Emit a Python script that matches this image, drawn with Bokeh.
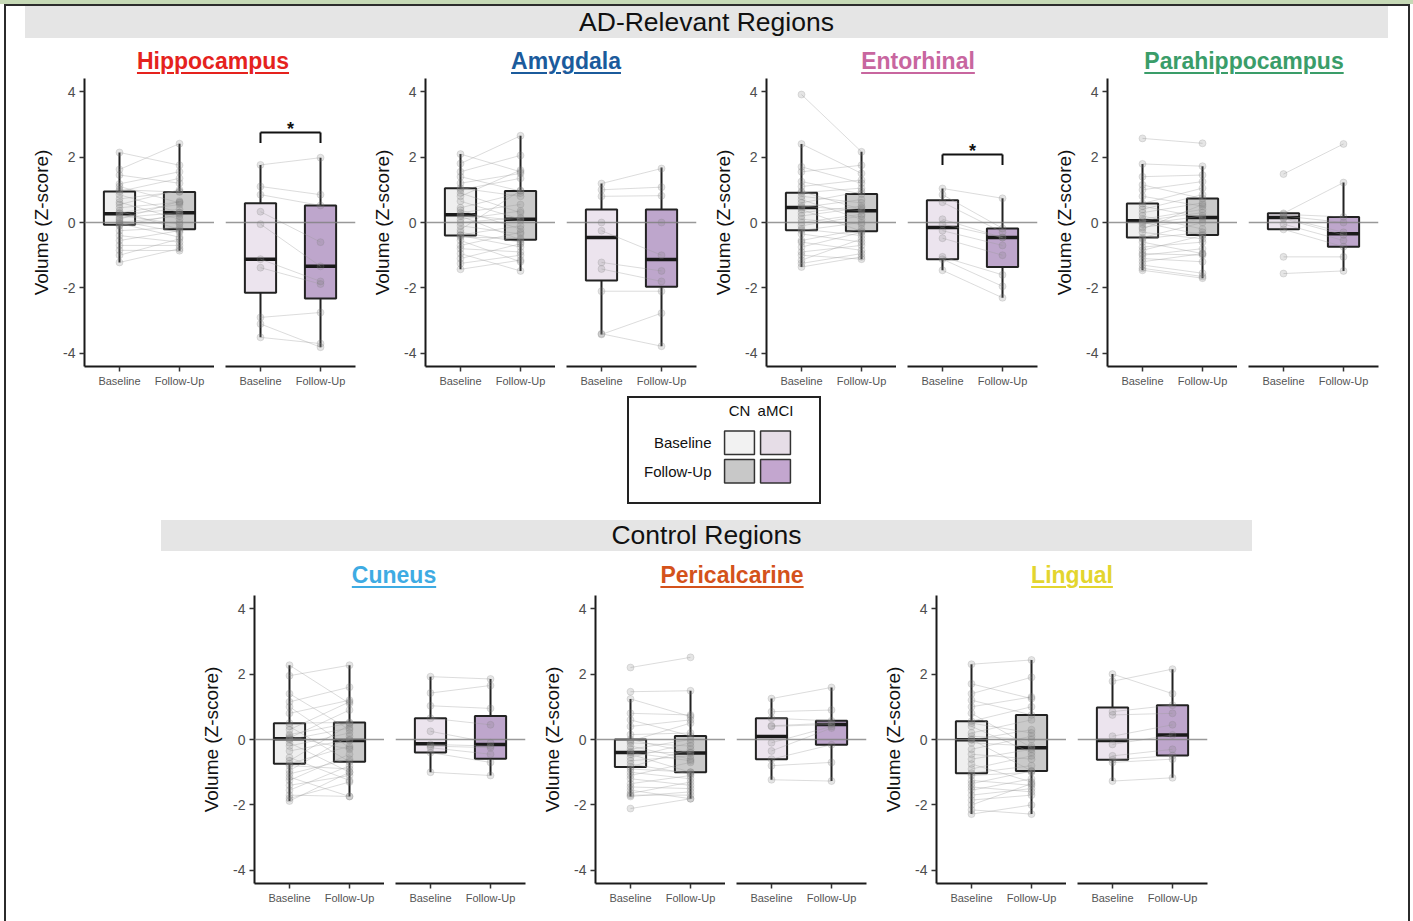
from bokeh.plotting import figure
from bokeh.models import FactorRange, Range1d, ColumnDataSource, Div, Spacer, Span, FixedTicker
from bokeh.layouts import row, column
from bokeh.transform import dodge
from bokeh.core.properties import value
from bokeh.embed import file_html
from bokeh.resources import INLINE

FONT = "Liberation Sans"
GROUPS = ["Baseline", "Follow-Up"]
REGIONS = ["Hippocampus", "Amygdala", "Entorhinal", "Parahippocampus",
           "Cuneus", "Pericalcarine", "Lingual"]
TITLE_COLORS = ["#e5221d", "#1b5b9c", "#c8669f", "#3a9d69",
                "#3eabe3", "#d4521b", "#e3d52e"]
SECTIONS = ["AD-Relevant Regions", "Control Regions"]
Y_TICKS = [-4, -2, 0, 2, 4]
Y_TICK_LABELS = ["-4", "-2", "0", "2", "4"]
LEGEND_COLS = ["CN", "aMCI"]
LEGEND_ROWS = ["Baseline", "Follow-Up"]
CN_FILL = ["#efefef", "#cacaca"]
MCI_FILL = ["#ece4ee", "#bea6cc"]
LEGEND_FILL = {("CN", "Baseline"): "#f2f2f2", ("aMCI", "Baseline"): "#e6dde7",
               ("CN", "Follow-Up"): "#c8c8c8", ("aMCI", "Follow-Up"): "#c3a6cf"}
SIG_REGIONS = ["Hippocampus", "Entorhinal"]
SIG_TOP = [2.75, 2.08]

# box stats: order CN-Baseline, CN-Follow-Up, aMCI-Baseline, aMCI-Follow-Up
HIP_BOX = dict(lo=[-1.22, -0.86, -3.51, -3.81], q1=[-0.07, -0.21, -2.15, -2.32],
               med=[0.27, 0.30, -1.12, -1.34], q3=[0.95, 0.93, 0.59, 0.52], hi=[2.14, 2.41, 1.76, 1.98])
AMY_BOX = dict(lo=[-1.43, -1.48, -3.42, -3.78], q1=[-0.40, -0.53, -1.77, -1.96],
               med=[0.24, 0.10, -0.46, -1.13], q3=[1.05, 0.96, 0.40, 0.40], hi=[2.09, 2.65, 1.19, 1.68])
ENT_BOX = dict(lo=[-1.36, -1.12, -1.46, -2.30], q1=[-0.24, -0.27, -1.12, -1.36],
               med=[0.46, 0.36, -0.15, -0.46], q3=[0.91, 0.87, 0.68, -0.18], hi=[2.40, 2.16, 1.04, 0.74])
PHC_BOX = dict(lo=[-1.46, -1.70, -0.21, -1.48], q1=[-0.46, -0.38, -0.21, -0.74],
               med=[0.05, 0.15, 0.15, -0.34], q3=[0.58, 0.73, 0.28, 0.17], hi=[1.79, 1.72, 0.28, 1.22])
CUN_BOX = dict(lo=[-1.88, -1.74, -1.00, -1.10], q1=[-0.74, -0.68, -0.40, -0.59],
               med=[0.02, -0.03, -0.13, -0.15], q3=[0.50, 0.52, 0.65, 0.72], hi=[2.27, 2.27, 1.92, 1.85])
PER_BOX = dict(lo=[-1.74, -1.81, -1.23, -1.27], q1=[-0.84, -1.00, -0.60, -0.16],
               med=[-0.40, -0.41, 0.09, 0.46], q3=[0.00, 0.11, 0.65, 0.57], hi=[1.24, 1.49, 1.25, 1.59])
LIN_BOX = dict(lo=[-2.28, -2.28, -1.27, -1.17], q1=[-1.03, -0.96, -0.62, -0.49],
               med=[-0.01, -0.25, -0.03, 0.14], q3=[0.56, 0.75, 0.98, 1.05], hi=[2.30, 2.43, 2.00, 2.15])

# individual subjects (paired baseline / follow-up)
HIP_CN_BL = [2.14, 1.62, 1.45, 1.18, 1.10, 1.00, 0.95, 0.85, 0.72, 0.62, 0.55, 0.45, 0.35, 0.30, 0.27,
             0.22, 0.15, 0.10, 0.05, 0.00, -0.03, -0.07, -0.10, -0.25, -0.40, -0.55, -0.70, -0.85, -1.00, -1.22]
HIP_CN_FU = [1.75, 2.41, 1.20, 1.55, 0.60, 0.93, 1.35, 0.30, 0.95, 0.10, 1.00, 0.62, -0.21, 0.55, 0.40,
             -0.05, 0.30, 0.65, -0.30, 0.20, -0.45, 0.00, 0.25, -0.15, -0.60, -0.25, -0.70, -0.86, -0.50, -0.80]
HIP_MCI_BL = [1.76, 1.10, 0.85, 0.33, -0.05, -1.12, -1.38, -2.90, -3.10, -3.51]
HIP_MCI_FU = [1.98, 0.85, 0.52, -0.60, -1.34, -1.80, -1.88, -2.75, -3.81, -3.70]

AMY_CN_BL = [2.09, 1.80, 1.55, 1.40, 1.20, 1.05, 1.00, 0.90, 0.80, 0.65, 0.45, 0.38, 0.30, 0.24, 0.20,
             0.10, 0.00, -0.10, -0.22, -0.30, -0.38, -0.40, -0.45, -0.55, -0.70, -0.80, -0.95, -1.10, -1.25, -1.43]
AMY_CN_FU = [1.55, 2.65, 2.05, 0.96, 1.50, 0.80, 1.35, 0.30, 1.60, 0.10, 0.90, -0.20, 0.55, 0.05, -0.53,
             0.35, 0.15, -0.35, 0.98, -0.60, -0.10, -0.75, -0.48, -1.20, -0.30, -0.90, -1.48, -0.65, -1.00, -1.15]
AMY_MCI_BL = [1.19, 1.00, 0.80, 0.00, -0.25, -1.22, -1.42, -2.10, -3.42, -3.40]
AMY_MCI_FU = [1.65, 1.08, 0.82, 0.00, -1.00, -1.48, -1.80, -2.10, -2.77, -3.78]

ENT_CN_BL = [3.91, 2.40, 1.70, 1.55, 1.25, 1.10, 0.95, 0.91, 0.80, 0.70, 0.60, 0.50, 0.46, 0.40, 0.30,
             0.20, 0.10, 0.00, -0.10, -0.20, -0.24, -0.35, -0.55, -0.60, -0.75, -0.90, -1.00, -1.15, -1.25, -1.36]
ENT_CN_FU = [2.16, 1.50, 1.20, 1.75, 0.87, 1.30, 0.40, 1.05, 0.60, 0.10, 0.95, 0.36, 0.70, -0.27, 0.50,
             0.45, -0.05, 0.25, 0.20, -0.40, 0.00, -0.60, -0.20, -0.85, -0.30, -0.70, -1.12, -0.50, -0.95, -1.05]
ENT_MCI_BL = [1.04, 0.85, 0.62, 0.10, -0.05, -0.25, -0.48, -1.05, -1.12, -1.46]
ENT_MCI_FU = [0.74, -0.18, -0.30, -0.46, -0.46, -0.70, -1.00, -1.60, -1.95, -2.30]

PHC_CN_BL = [2.57, 1.79, 1.40, 1.15, 1.00, 0.80, 0.58, 0.50, 0.40, 0.30, 0.20, 0.10, 0.05, 0.00, -0.05,
             -0.15, -0.20, -0.30, -0.46, -0.50, -0.60, -0.75, -0.85, -0.95, -1.00, -1.10, -1.20, -1.30, -1.40, -1.46]
PHC_CN_FU = [2.42, 1.72, 1.45, 0.73, 1.25, 0.50, 1.05, 0.15, 0.85, 0.60, -0.20, 0.40, 0.30, -0.38, 0.20,
             0.10, 0.55, -0.50, 0.00, -0.30, -0.95, -0.60, -0.40, -1.00, -0.80, -1.20, -0.95, -1.55, -1.65, -1.70]
PHC_MCI_BL = [1.48, 0.28, 0.25, 0.20, 0.15, 0.12, -0.05, -0.21, -1.05, -1.56]
PHC_MCI_FU = [2.40, 1.22, 0.17, 0.00, -0.30, -0.38, -0.55, -0.74, -1.05, -1.48]

CUN_CN_BL = [2.27, 1.95, 1.40, 1.15, 1.00, 0.80, 0.50, 0.40, 0.30, 0.15, 0.10, 0.05, 0.02, 0.00, -0.10,
             -0.20, -0.35, -0.55, -0.65, -0.74, -0.80, -0.95, -1.05, -1.15, -1.25, -1.40, -1.55, -1.70, -1.80, -1.88]
CUN_CN_FU = [1.10, 2.27, 0.30, 1.60, -0.25, 1.20, 0.52, -0.68, 1.15, 0.50, -0.30, 0.90, -0.03, 0.35, -1.00,
             0.20, 0.00, -1.25, 0.45, -0.20, -0.90, 0.10, -0.60, -1.74, -0.45, -1.10, -0.80, -1.74, -1.30, -1.00]
CUN_MCI_BL = [1.92, 1.42, 1.03, 0.65, 0.25, -0.15, -0.20, -0.25, -0.40, -1.00]
CUN_MCI_FU = [1.85, 1.65, 0.95, 0.45, -0.10, -0.20, -0.25, -0.45, -0.70, -1.10]

PER_CN_BL = [2.20, 1.46, 1.24, 0.80, 0.60, 0.40, 0.15, 0.00, -0.05, -0.10, -0.20, -0.30, -0.38, -0.40, -0.45,
             -0.55, -0.65, -0.75, -0.84, -0.90, -1.00, -1.10, -1.20, -1.35, -1.45, -1.55, -1.65, -1.70, -1.74, -2.11]
PER_CN_FU = [2.51, 1.49, 0.70, 0.75, 0.11, 0.60, 0.20, -0.40, 0.50, -0.20, -0.60, 0.00, -0.41, -0.65, -1.00,
             -0.10, -0.50, -1.05, -0.30, -1.00, -1.20, -0.70, -1.40, -1.10, -1.50, -1.81, -1.30, -1.70, -1.60, -1.81]
PER_MCI_BL = [1.25, 0.85, 0.65, 0.42, 0.40, -0.10, -0.35, -0.60, -0.80, -1.23]
PER_MCI_FU = [1.59, 0.90, 0.57, 0.50, 0.46, 0.40, 0.35, -0.16, -0.70, -1.27]

LIN_CN_BL = [2.30, 1.70, 1.40, 1.20, 1.00, 0.80, 0.56, 0.50, 0.40, 0.20, 0.10, 0.00, -0.01, -0.10, -0.30,
             -0.45, -0.60, -0.75, -0.90, -1.03, -1.10, -1.25, -1.35, -1.45, -1.55, -1.70, -1.85, -2.00, -2.15, -2.28]
LIN_CN_FU = [2.43, 1.25, 1.90, 0.75, 1.30, -0.25, 1.00, 0.20, -0.40, 0.60, 0.00, -0.96, 0.30, -0.20, 0.10,
             -0.60, -0.30, -1.30, -0.50, -0.80, -1.00, -1.40, -0.96, -1.60, -1.20, -1.50, -1.70, -1.35, -2.28, -2.00]
LIN_MCI_BL = [2.00, 1.78, 0.85, 0.75, 0.10, -0.15, -0.50, -0.62, -0.70, -1.27]
LIN_MCI_FU = [1.40, 2.15, 1.05, 0.80, 0.45, 0.14, -0.30, -0.49, -0.60, -1.17]

DATA = {
    "Hippocampus": (HIP_BOX, HIP_CN_BL, HIP_CN_FU, HIP_MCI_BL, HIP_MCI_FU),
    "Amygdala": (AMY_BOX, AMY_CN_BL, AMY_CN_FU, AMY_MCI_BL, AMY_MCI_FU),
    "Entorhinal": (ENT_BOX, ENT_CN_BL, ENT_CN_FU, ENT_MCI_BL, ENT_MCI_FU),
    "Parahippocampus": (PHC_BOX, PHC_CN_BL, PHC_CN_FU, PHC_MCI_BL, PHC_MCI_FU),
    "Cuneus": (CUN_BOX, CUN_CN_BL, CUN_CN_FU, CUN_MCI_BL, CUN_MCI_FU),
    "Pericalcarine": (PER_BOX, PER_CN_BL, PER_CN_FU, PER_MCI_BL, PER_MCI_FU),
    "Lingual": (LIN_BOX, LIN_CN_BL, LIN_CN_FU, LIN_MCI_BL, LIN_MCI_FU),
}

# ---------------- layout constants (pixels) ----------------
FRAME_W = 130
FRAME_H = 288
LEFT_B = 56
GAP = 11
RIGHT_B = 14
TOP_B = 4
BOT_B = 30
FIG_H = TOP_B + FRAME_H + BOT_B
BOX_W = 0.52
INNER_W = 1402


def make_fig(bl, fu, box, idx, fills, with_axis, sig_top=None):
    xr = FactorRange(factors=GROUPS, range_padding=0.083, range_padding_units="absolute")
    yr = Range1d(-4.4, 4.4)
    if with_axis:
        w = LEFT_B + FRAME_W
        p = figure(width=w, height=FIG_H, x_range=xr, y_range=yr, output_backend="svg",
                   toolbar_location=None, min_border_left=LEFT_B, min_border_right=0,
                   min_border_top=TOP_B, min_border_bottom=BOT_B)
    else:
        w = GAP + FRAME_W + RIGHT_B
        p = figure(width=w, height=FIG_H, x_range=xr, y_range=yr, output_backend="svg",
                   toolbar_location=None, y_axis_location=None, min_border_left=GAP,
                   min_border_right=RIGHT_B, min_border_top=TOP_B, min_border_bottom=BOT_B)
    p.outline_line_color = None
    p.grid.visible = False
    p.background_fill_color = "white"
    p.border_fill_color = "white"

    ax = p.xaxis[0]
    ax.axis_line_width = 2
    ax.axis_line_color = "#1a1a1a"
    ax.major_tick_line_color = "#333333"
    ax.major_tick_line_width = 1.5
    ax.major_tick_out = 5
    ax.major_tick_in = 0
    ax.minor_tick_line_color = None
    ax.major_label_text_font = FONT
    ax.major_label_text_font_size = "11px"
    ax.major_label_text_color = "#555555"
    ax.major_label_standoff = 3
    if with_axis:
        ya = p.yaxis[0]
        ya.ticker = FixedTicker(ticks=Y_TICKS)
        ya.major_label_overrides = dict(zip(Y_TICKS, Y_TICK_LABELS))
        ya.axis_line_width = 2
        ya.axis_line_color = "#1a1a1a"
        ya.major_tick_line_color = "#333333"
        ya.major_tick_line_width = 1.5
        ya.major_tick_out = 5
        ya.major_tick_in = 0
        ya.minor_tick_line_color = None
        ya.major_label_text_font = FONT
        ya.major_label_text_font_size = "14px"
        ya.major_label_text_color = "#4d4d4d"
        ya.major_label_standoff = 4
        ya.axis_label = "Volume (Z-score)"
        ya.axis_label_text_font = FONT
        ya.axis_label_text_font_size = "19px"
        ya.axis_label_text_font_style = "normal"
        ya.axis_label_text_color = "#111111"
        ya.axis_label_standoff = 8

    p.add_layout(Span(location=0, dimension="width", line_color="#808080", line_width=1.5,
                      line_alpha=0.8))

    bsrc = ColumnDataSource(dict(x=GROUPS, lo=box["lo"][idx:idx + 2], q1=box["q1"][idx:idx + 2],
                                 med=box["med"][idx:idx + 2], q3=box["q3"][idx:idx + 2],
                                 hi=box["hi"][idx:idx + 2], fill=fills))
    p.segment(x0="x", y0="lo", x1="x", y1="hi", source=bsrc, line_color="#222222", line_width=2)
    p.vbar(x="x", width=BOX_W, bottom="q1", top="q3", source=bsrc, fill_color="fill",
           line_color="#222222", line_width=2)
    p.segment(x0=dodge("x", -BOX_W / 2, range=xr), x1=dodge("x", BOX_W / 2, range=xr),
              y0="med", y1="med", source=bsrc, line_color="#1a1a1a", line_width=3.5)

    n = len(bl)
    psrc = ColumnDataSource(dict(x0=[GROUPS[0]] * n, x1=[GROUPS[1]] * n, y0=bl, y1=fu))
    p.segment(x0="x0", y0="y0", x1="x1", y1="y1", source=psrc, line_color="#9a9a9a",
              line_alpha=0.35, line_width=1)
    ptsrc = ColumnDataSource(dict(x=[GROUPS[0]] * n + [GROUPS[1]] * n, y=list(bl) + list(fu)))
    p.scatter(x="x", y="y", source=ptsrc, size=7, fill_color="#7f7f7f", fill_alpha=0.2,
              line_color="#7f7f7f", line_alpha=0.2)

    if sig_top is not None:
        s = ColumnDataSource(dict(a=[GROUPS[0]], b=[GROUPS[1]], top=[sig_top],
                                  bot=[sig_top - 0.32], ty=[sig_top + 0.12], t=["*"]))
        p.segment(x0="a", y0="top", x1="b", y1="top", source=s, line_color="#111111", line_width=2)
        p.segment(x0="a", y0="top", x1="a", y1="bot", source=s, line_color="#111111", line_width=2)
        p.segment(x0="b", y0="top", x1="b", y1="bot", source=s, line_color="#111111", line_width=2)
        p.text(x=dodge("a", 0.5, range=xr), y="ty", text="t", source=s, text_align="center",
               text_baseline="middle", text_font=value(FONT), text_font_style="bold",
               text_font_size="18px", text_color="#111111")
    return p


def region_figs(name):
    box, cbl, cfu, mbl, mfu = DATA[name]
    sig = SIG_TOP[SIG_REGIONS.index(name)] if name in SIG_REGIONS else None
    cn = make_fig(cbl, cfu, box, 0, CN_FILL, True)
    mci = make_fig(mbl, mfu, box, 2, MCI_FILL, False, sig)
    return [cn, mci]


def sp(w, h):
    return Spacer(width=w, height=h, margin=(0, 0, 0, 0))


def header(text, w, h):
    html = ('<div style="width:%dpx;height:%dpx;background:#e5e5e5;text-align:center;'
            'font-family:\'Liberation Sans\';font-size:26.5px;line-height:%dpx;color:#111;">%s</div>'
            % (w, h, h, text))
    return Div(text=html, width=w, height=h, margin=(0, 0, 0, 0))


def title_div(name, h, pad):
    color = TITLE_COLORS[REGIONS.index(name)]
    html = ('<div style="width:300px;text-align:center;font-family:\'Liberation Sans\';'
            'font-weight:bold;font-size:23px;line-height:22px;padding-top:%dpx;color:%s;'
            'text-decoration:underline;text-decoration-thickness:2px;text-underline-offset:3px;">'
            '%s</div>' % (pad, color, name))
    return Div(text=html, width=300, height=h, margin=(0, 0, 0, 0))


# legend
lg = figure(width=194, height=108, x_range=FactorRange(factors=LEGEND_COLS),
            y_range=FactorRange(factors=LEGEND_ROWS[::-1]), x_axis_location="above",
            output_backend="svg", toolbar_location=None, min_border_left=92, min_border_top=29,
            min_border_right=30, min_border_bottom=21,
            styles={"border": "2px solid #222222"})
lg.outline_line_color = None
lg.grid.visible = False
for a in (lg.xaxis[0], lg.yaxis[0]):
    a.axis_line_color = None
    a.major_tick_line_color = None
    a.minor_tick_line_color = None
    a.major_label_text_font = FONT
    a.major_label_text_color = "#111111"
    a.major_label_text_font_size = "15px"
lg.xaxis[0].major_label_standoff = 4
lg.yaxis[0].major_label_standoff = 4
cells_x = [c for r in LEGEND_ROWS for c in LEGEND_COLS]
cells_y = [r for r in LEGEND_ROWS for c in LEGEND_COLS]
lg.rect(x=cells_x, y=cells_y, width=0.83, height=0.83,
        fill_color=[LEGEND_FILL[(c, r)] for c, r in zip(cells_x, cells_y)],
        line_color="#333333", line_width=1.5)

top_figs = []
for nm in REGIONS[:4]:
    top_figs += region_figs(nm)
bot_figs = []
for nm in REGIONS[4:]:
    bot_figs += region_figs(nm)

inner = column(
    sp(INNER_W, 0),
    row(sp(19, 32), header(SECTIONS[0], 1363, 32)),
    row(sp(57, 36), title_div(REGIONS[0], 36, 12), sp(53, 36), title_div(REGIONS[1], 36, 12),
        sp(52, 36), title_div(REGIONS[2], 36, 12), sp(26, 36), title_div(REGIONS[3], 36, 12)),
    row(sp(22, FIG_H), *top_figs),
    row(sp(621, 108), lg),
    sp(INNER_W, 16),
    row(sp(155, 31), header(SECTIONS[1], 1091, 31)),
    row(sp(238, 40), title_div(REGIONS[4], 40, 13), sp(38, 40), title_div(REGIONS[5], 40, 13),
        sp(40, 40), title_div(REGIONS[6], 40, 13)),
    row(sp(192, FIG_H), *bot_figs),
    sp(INNER_W, 8),
    styles={"border-left": "2px solid #2b2b2b", "border-top": "2px solid #2b2b2b",
            "border-right": "2px solid #2b2b2b"},
)

green = Div(text="", width=1413, height=4, margin=(0, 0, 0, 0),
            styles={"background-color": "#c6d9b6"})
layout = column(green, row(sp(4, 10), inner))

open("out.html", "w").write(file_html(layout, INLINE))
